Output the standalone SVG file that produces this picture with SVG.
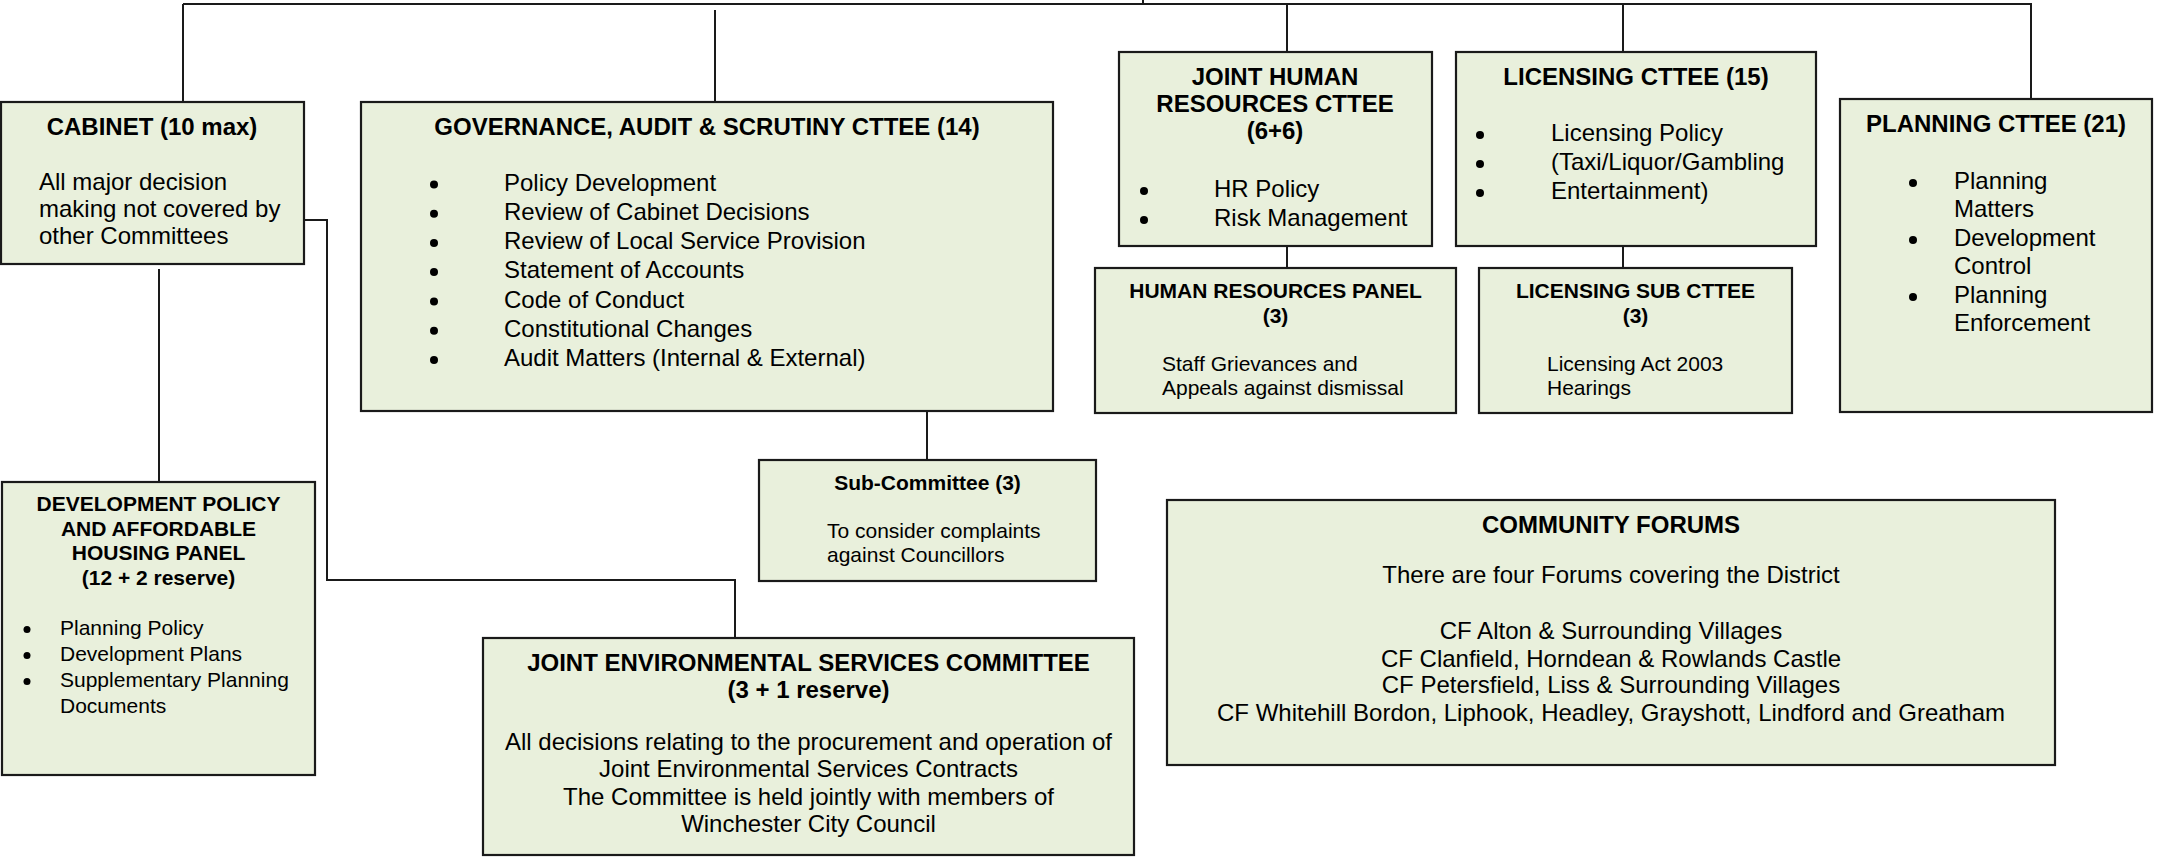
<svg xmlns="http://www.w3.org/2000/svg" width="2157" height="859" viewBox="0 0 2157 859">
<style>
.box{fill:#e9f0dc;stroke:#1a1a1a;stroke-width:2.2}
.ln{fill:none;stroke:#1a1a1a;stroke-width:2}
text{font-family:"Liberation Sans",Arial,sans-serif;fill:#000}
.h{font-size:24px;font-weight:bold;text-anchor:middle}
.hs{font-size:21px;font-weight:bold;text-anchor:middle}
.b{font-size:24px}
.bc{font-size:24px;text-anchor:middle}
.s{font-size:21px}
.dot{fill:#000}
</style>
<rect width="2157" height="859" fill="#fff"/>
<g id="connectors">
<path class="ln" d="M183,4 H2032"/>
<path class="ln" d="M1143,0 V4"/>
<path class="ln" d="M183,4 V102"/>
<path class="ln" d="M715,10 V102"/>
<path class="ln" d="M1287,4 V52"/>
<path class="ln" d="M1623,4 V52"/>
<path class="ln" d="M2031,4 V99"/>
<path class="ln" d="M1287,246 V268"/>
<path class="ln" d="M1623,246 V268"/>
<path class="ln" d="M927,411 V460"/>
<path class="ln" d="M159,269 V482"/>
<path class="ln" d="M305,220 H327 V580 H735 V638"/>
</g>
<g id="cabinet">
<rect class="box" x="1" y="102" width="303" height="162"/>
<text class="h" x="152" y="135">CABINET (10 max)</text>
<text class="b" x="39" y="190">All major decision</text>
<text class="b" x="39" y="217">making not covered by</text>
<text class="b" x="39" y="244">other Committees</text>
</g>
<g id="governance">
<rect class="box" x="361" y="102" width="692" height="309"/>
<text class="h" x="707" y="135">GOVERNANCE, AUDIT &amp; SCRUTINY CTTEE (14)</text>
<circle class="dot" cx="434" cy="184.5" r="4"/>
<circle class="dot" cx="434" cy="213.7" r="4"/>
<circle class="dot" cx="434" cy="243" r="4"/>
<circle class="dot" cx="434" cy="272" r="4"/>
<circle class="dot" cx="434" cy="301.5" r="4"/>
<circle class="dot" cx="434" cy="330.7" r="4"/>
<circle class="dot" cx="434" cy="360" r="4"/>
<text class="b" x="504" y="190.5">Policy Development</text>
<text class="b" x="504" y="219.7">Review of Cabinet Decisions</text>
<text class="b" x="504" y="249">Review of Local Service Provision</text>
<text class="b" x="504" y="278">Statement of Accounts</text>
<text class="b" x="504" y="307.5">Code of Conduct</text>
<text class="b" x="504" y="336.7">Constitutional Changes</text>
<text class="b" x="504" y="366">Audit Matters (Internal &amp; External)</text>
</g>
<g id="joint-hr">
<rect class="box" x="1119" y="52" width="313" height="194"/>
<text class="h" x="1275" y="85">JOINT HUMAN</text>
<text class="h" x="1275" y="112">RESOURCES CTTEE</text>
<text class="h" x="1275" y="139">(6+6)</text>
<circle class="dot" cx="1144" cy="191" r="4"/>
<circle class="dot" cx="1144" cy="220" r="4"/>
<text class="b" x="1214" y="197">HR Policy</text>
<text class="b" x="1214" y="226">Risk Management</text>
</g>
<g id="licensing">
<rect class="box" x="1456" y="52" width="360" height="194"/>
<text class="h" x="1636" y="85">LICENSING CTTEE (15)</text>
<circle class="dot" cx="1480" cy="135" r="4"/>
<circle class="dot" cx="1480" cy="164" r="4"/>
<circle class="dot" cx="1480" cy="193" r="4"/>
<text class="b" x="1551" y="141">Licensing Policy</text>
<text class="b" x="1551" y="170">(Taxi/Liquor/Gambling</text>
<text class="b" x="1551" y="199">Entertainment)</text>
</g>
<g id="planning">
<rect class="box" x="1840" y="99" width="312" height="313"/>
<text class="h" x="1996" y="132">PLANNING CTTEE (21)</text>
<circle class="dot" cx="1913" cy="183" r="4"/>
<circle class="dot" cx="1913" cy="240" r="4"/>
<circle class="dot" cx="1913" cy="297" r="4"/>
<text class="b" x="1954" y="189">Planning</text>
<text class="b" x="1954" y="217">Matters</text>
<text class="b" x="1954" y="246">Development</text>
<text class="b" x="1954" y="274">Control</text>
<text class="b" x="1954" y="303">Planning</text>
<text class="b" x="1954" y="331">Enforcement</text>
</g>
<g id="hr-panel">
<rect class="box" x="1095" y="268" width="361" height="145"/>
<text class="hs" x="1275.5" y="298">HUMAN RESOURCES PANEL</text>
<text class="hs" x="1275.5" y="323">(3)</text>
<text class="s" x="1162" y="371">Staff Grievances and</text>
<text class="s" x="1162" y="395">Appeals against dismissal</text>
</g>
<g id="licensing-sub">
<rect class="box" x="1479" y="268" width="313" height="145"/>
<text class="hs" x="1635.5" y="298">LICENSING SUB CTTEE</text>
<text class="hs" x="1635.5" y="323">(3)</text>
<text class="s" x="1547" y="371">Licensing Act 2003</text>
<text class="s" x="1547" y="395">Hearings</text>
</g>
<g id="sub-committee">
<rect class="box" x="759" y="460" width="337" height="121"/>
<text class="hs" x="927.5" y="490">Sub-Committee (3)</text>
<text class="s" x="827" y="538">To consider complaints</text>
<text class="s" x="827" y="562">against Councillors</text>
</g>
<g id="dev-policy">
<rect class="box" x="2" y="482" width="313" height="293"/>
<text class="hs" x="158.5" y="511">DEVELOPMENT POLICY</text>
<text class="hs" x="158.5" y="535.5">AND AFFORDABLE</text>
<text class="hs" x="158.5" y="560">HOUSING PANEL</text>
<text class="hs" x="158.5" y="585">(12 + 2 reserve)</text>
<circle class="dot" cx="27" cy="629.5" r="3.5"/>
<circle class="dot" cx="27" cy="655.5" r="3.5"/>
<circle class="dot" cx="27" cy="681.5" r="3.5"/>
<text class="s" x="60" y="635">Planning Policy</text>
<text class="s" x="60" y="661">Development Plans</text>
<text class="s" x="60" y="687">Supplementary Planning</text>
<text class="s" x="60" y="713">Documents</text>
</g>
<g id="joint-environmental">
<rect class="box" x="483" y="638" width="651" height="217"/>
<text class="h" x="808.5" y="671">JOINT ENVIRONMENTAL SERVICES COMMITTEE</text>
<text class="h" x="808.5" y="698">(3 + 1 reserve)</text>
<text class="bc" x="808.5" y="749.5">All decisions relating to the procurement and operation of</text>
<text class="bc" x="808.5" y="777">Joint Environmental Services Contracts</text>
<text class="bc" x="808.5" y="804.5">The Committee is held jointly with members of</text>
<text class="bc" x="808.5" y="832">Winchester City Council</text>
</g>
<g id="community-forums">
<rect class="box" x="1167" y="500" width="888" height="265"/>
<text class="h" x="1611" y="533">COMMUNITY FORUMS</text>
<text class="bc" x="1611" y="583">There are four Forums covering the District</text>
<text class="bc" x="1611" y="639">CF Alton &amp; Surrounding Villages</text>
<text class="bc" x="1611" y="667">CF Clanfield, Horndean &amp; Rowlands Castle</text>
<text class="bc" x="1611" y="693">CF Petersfield, Liss &amp; Surrounding Villages</text>
<text class="bc" x="1611" y="721">CF Whitehill Bordon, Liphook, Headley, Grayshott, Lindford and Greatham</text>
</g>
</svg>
